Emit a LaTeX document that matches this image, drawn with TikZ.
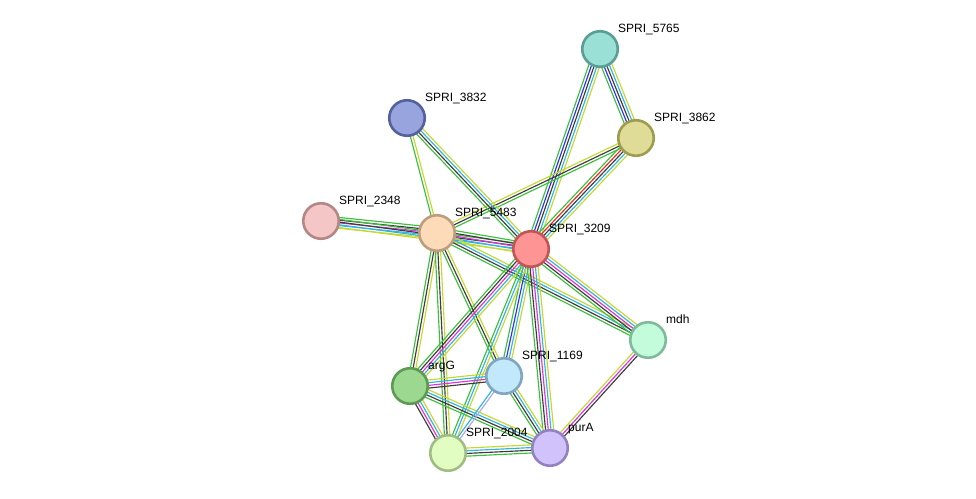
\documentclass[tikz,border=0pt]{standalone}
\usepackage{fontspec}
\newfontfamily\labfont{Liberation Sans}
\usetikzlibrary{calc,backgrounds}
\definecolor{cgreen}{HTML}{3CC03C}
\definecolor{cred}{HTML}{F02828}
\definecolor{cblue}{HTML}{2E2EF5}
\definecolor{cblack}{HTML}{3C3C3C}
\definecolor{cmag}{HTML}{E030E0}
\definecolor{ccyan}{HTML}{30B4E0}
\definecolor{cyel}{HTML}{C4D832}
\definecolor{chom}{HTML}{A8A8FF}
\tikzset{
  eg/.style={draw=cgreen},
  er/.style={draw=cred},
  eb/.style={draw=cblue},
  ek/.style={draw=cblack},
  em/.style={draw=cmag},
  ec/.style={draw=ccyan},
  ey/.style={draw=cyel},
  eh/.style={draw=chom},
  prot/.style={circle, minimum size=35.5pt, inner sep=0pt, line width=2.6pt},
  lab/.style={font=\labfont\fontsize{12}{14}\selectfont, anchor=base west, inner sep=0pt, text=black},
}
\def\bsp{2.7}
\newcommand\bund[3]{%
  \foreach \c [count=\k] in {#3}{\xdef\bn{\k}}%
  \foreach \c [count=\k] in {#3}{%
    \pgfmathsetmacro\off{(\k-(\bn+1)/2)*\bsp}%
    \draw[\c, line width=1.15pt] ($(#1.center)!\off pt!90:(#2.center)$) -- ($(#2.center)!\off pt!-90:(#1.center)$);
  }%
}
\begin{document}
\begin{tikzpicture}[x=1pt,y=-1pt]
\useasboundingbox (0,0) rectangle (976,498);
% nodes
\node[prot, fill={rgb,255:red,155;green,224;blue,214}, draw={rgb,255:red,90;green,158;blue,148}] (n5765) at (600,49) {};
\node[prot, fill={rgb,255:red,222;green,220;blue,151}, draw={rgb,255:red,158;green,156;blue,80}] (n3862) at (636,138) {};
\node[prot, fill={rgb,255:red,152;green,164;blue,222}, draw={rgb,255:red,85;green,97;blue,158}] (n3832) at (407,118) {};
\node[prot, fill={rgb,255:red,245;green,198;blue,198}, draw={rgb,255:red,181;green,134;blue,134}] (n2348) at (321,221) {};
\node[prot, fill={rgb,255:red,253;green,218;blue,184}, draw={rgb,255:red,190;green,156;blue,126}] (n5483) at (437,233) {};
\node[prot, fill={rgb,255:red,255;green,148;blue,148}, draw={rgb,255:red,194;green,85;blue,85}] (n3209) at (531,249) {};
\node[prot, fill={rgb,255:red,194;green,252;blue,219}, draw={rgb,255:red,127;green,186;blue,154}] (nmdh) at (648,340) {};
\node[prot, fill={rgb,255:red,193;green,232;blue,251}, draw={rgb,255:red,127;green,166;blue,190}] (n1169) at (504,376) {};
\node[prot, fill={rgb,255:red,156;green,216;blue,143}, draw={rgb,255:red,93;green,155;blue,82}] (nargG) at (410,386) {};
\node[prot, fill={rgb,255:red,225;green,253;blue,194}, draw={rgb,255:red,161;green,189;blue,134}] (n2004) at (448,453) {};
\node[prot, fill={rgb,255:red,209;green,194;blue,251}, draw={rgb,255:red,146;green,130;blue,192}] (npurA) at (550,448) {};
% labels
\node[lab] (l5765) at ($(n5765)+(18,-17)$) {SPRI\_5765};
\node[lab] (l3862) at ($(n3862)+(18,-17)$) {SPRI\_3862};
\node[lab] (l3832) at ($(n3832)+(18,-17)$) {SPRI\_3832};
\node[lab] (l2348) at ($(n2348)+(18,-17)$) {SPRI\_2348};
\node[lab] (l5483) at ($(n5483)+(18,-17)$) {SPRI\_5483};
\node[lab] (l3209) at ($(n3209)+(18,-17)$) {SPRI\_3209};
\node[lab] (lmdh) at ($(nmdh)+(18,-17)$) {mdh};
\node[lab] (l1169) at ($(n1169)+(18,-17)$) {SPRI\_1169};
\node[lab] (largG) at ($(nargG)+(18,-17)$) {argG};
\node[lab] (l2004) at ($(n2004)+(18,-17)$) {SPRI\_2004};
\node[lab] (lpurA) at ($(npurA)+(18,-17)$) {purA};
% edges
\begin{pgfonlayer}{background}
\bund{n5765}{n3862}{eg,eb,ek,ec,ey}
\bund{n5765}{n3209}{eg,eb,ek,ec,ey}
\bund{n3862}{n3209}{eg,er,ek,ec,ey}
\bund{n3862}{n5483}{ey,ek,eg}
\bund{n3832}{n5483}{eg,ey}
\bund{n3832}{n3209}{eg,ek,ec,ey}
\bund{n2348}{n5483}{ey,ec,em,ek,eg}
\bund{n2348}{n3209}{ey,ec,ek,eg}
\bund{n5483}{n3209}{ey,ec,em,ek,eg}
\bund{n5483}{nmdh}{eg,ek,ec,ey}
\bund{n3209}{nmdh}{eg,ek,em,ec,ey}
\bund{n5483}{nargG}{eg,ek,ey}
\bund{n5483}{n2004}{eg,ek,ey}
\bund{n5483}{n1169}{eg,ek,ey}
\bund{n3209}{nargG}{eg,ek,em,ec,ey}
\bund{n3209}{n1169}{eg,eb,ec,ey}
\bund{n3209}{n2004}{eg,ec,ey}
\bund{n3209}{npurA}{eg,ek,em,ec,ey}
\bund{nargG}{n1169}{ek,em,ec,ey}
\bund{nargG}{n2004}{ek,em,ec,ey}
\bund{nargG}{npurA}{eg,ek,ec,ey}
\bund{n1169}{n2004}{ec,eh}
\bund{n1169}{npurA}{eg,ek,ec,ey}
\bund{n2004}{npurA}{eg,ek,ec,ey}
\bund{nmdh}{npurA}{ey,em,ek}
\end{pgfonlayer}
\end{tikzpicture}
\end{document}
